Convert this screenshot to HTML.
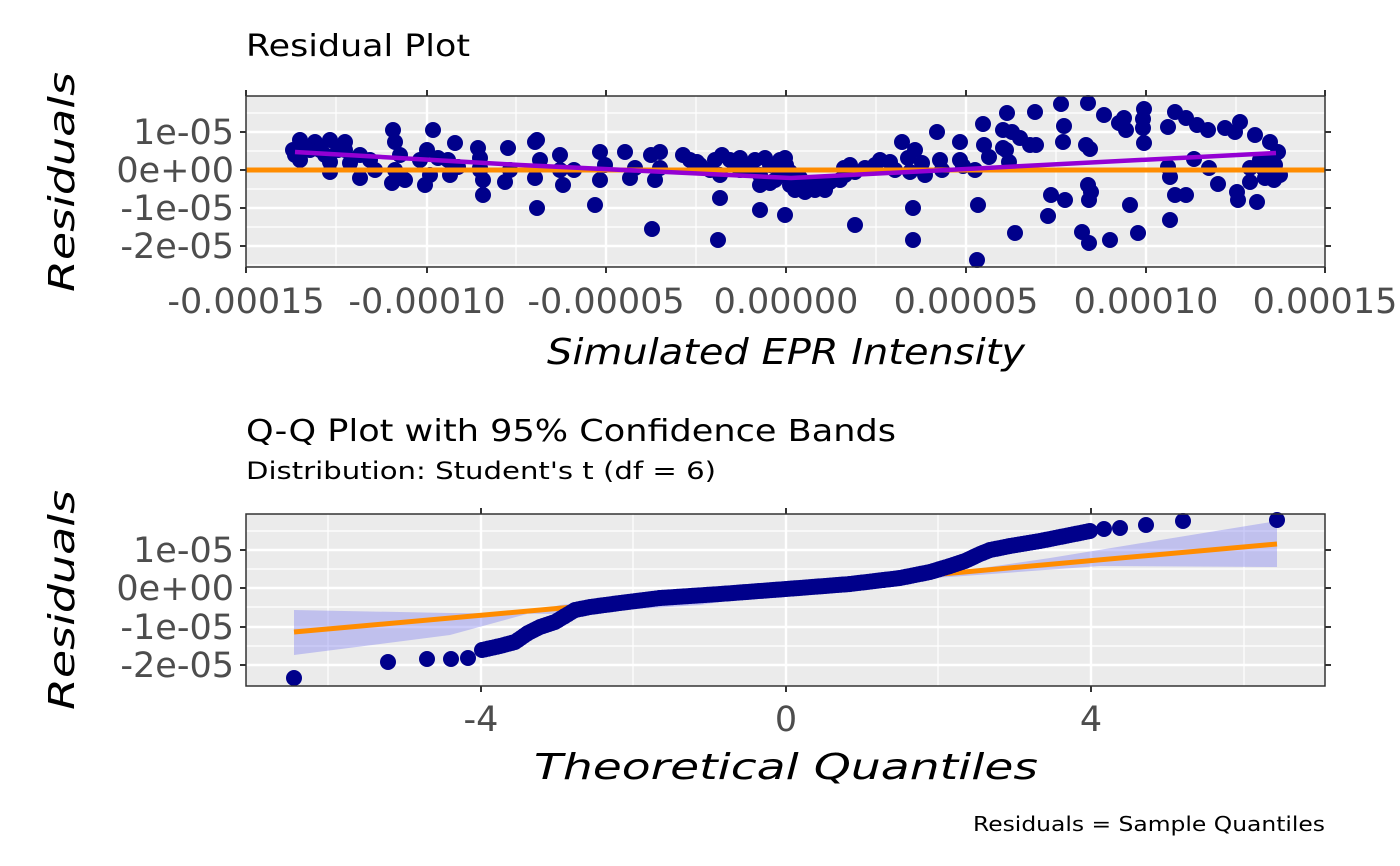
<!DOCTYPE html>
<html><head><meta charset="utf-8"><style>
html,body{margin:0;padding:0;background:#fff;}
svg{display:block;font-family:"DejaVu Sans","Liberation Sans",sans-serif;}
</style></head><body>
<svg id="s" width="1400" height="866" viewBox="0 0 1400 866" xmlns="http://www.w3.org/2000/svg">
<rect x="246" y="96" width="1079" height="171" fill="#EBEBEB"/>
<g stroke="#fff" stroke-width="1.2">
<line x1="246" x2="1325" y1="113" y2="113"/><line x1="246" x2="1325" y1="151" y2="151"/><line x1="246" x2="1325" y1="189" y2="189"/><line x1="246" x2="1325" y1="227" y2="227"/><line x1="246" x2="1325" y1="265" y2="265"/>
<line y1="96" y2="267" x1="336" x2="336"/><line y1="96" y2="267" x1="516" x2="516"/><line y1="96" y2="267" x1="696" x2="696"/><line y1="96" y2="267" x1="876" x2="876"/><line y1="96" y2="267" x1="1056" x2="1056"/><line y1="96" y2="267" x1="1236" x2="1236"/>
</g>
<g stroke="#fff" stroke-width="2.4">
<line x1="246" x2="1325" y1="132" y2="132"/><line x1="246" x2="1325" y1="170" y2="170"/><line x1="246" x2="1325" y1="208" y2="208"/><line x1="246" x2="1325" y1="246" y2="246"/>
<line y1="96" y2="267" x1="427" x2="427"/><line y1="96" y2="267" x1="606" x2="606"/><line y1="96" y2="267" x1="786" x2="786"/><line y1="96" y2="267" x1="966" x2="966"/><line y1="96" y2="267" x1="1146" x2="1146"/>
</g>
<g id="toppts" fill="#00008B"></g>
<line x1="246" x2="1325" y1="170" y2="170" stroke="#FF8C00" stroke-width="5"/>
<polyline points="295,152 520,165 791,178 1276,153" fill="none" stroke="#9400D3" stroke-width="4.5"/>
<rect x="246" y="96" width="1079" height="171" fill="none" stroke="#333" stroke-width="1.5"/>
<g stroke="#333" stroke-width="2">
<line x1="240" x2="246" y1="132" y2="132"/><line x1="240" x2="246" y1="170" y2="170"/><line x1="240" x2="246" y1="208" y2="208"/><line x1="240" x2="246" y1="246" y2="246"/>
<line x1="1325" x2="1331" y1="132" y2="132"/><line x1="1325" x2="1331" y1="170" y2="170"/><line x1="1325" x2="1331" y1="208" y2="208"/><line x1="1325" x2="1331" y1="246" y2="246"/>
<line y1="267" y2="273" x1="246" x2="246"/><line y1="267" y2="273" x1="427" x2="427"/><line y1="267" y2="273" x1="606" x2="606"/><line y1="267" y2="273" x1="786" x2="786"/><line y1="267" y2="273" x1="966" x2="966"/><line y1="267" y2="273" x1="1146" x2="1146"/><line y1="267" y2="273" x1="1325" x2="1325"/>
<line y1="90" y2="96" x1="246" x2="246"/><line y1="90" y2="96" x1="427" x2="427"/><line y1="90" y2="96" x1="606" x2="606"/><line y1="90" y2="96" x1="786" x2="786"/><line y1="90" y2="96" x1="966" x2="966"/><line y1="90" y2="96" x1="1146" x2="1146"/><line y1="90" y2="96" x1="1325" x2="1325"/>
</g>
<g fill="#4D4D4D" font-size="35" text-anchor="end">
<text x="234" y="144">1e-05</text><text x="234" y="182">0e+00</text><text x="234" y="220">-1e-05</text><text x="234" y="258">-2e-05</text>
</g>
<g fill="#4D4D4D" font-size="35" text-anchor="middle">
<text x="246" y="313">-0.00015</text><text x="427" y="313">-0.00010</text><text x="606" y="313">-0.00005</text><text x="786" y="313">0.00000</text><text x="966" y="313">0.00005</text><text x="1146" y="313">0.00010</text><text x="1325" y="313">0.00015</text>
</g>
<text x="246" y="56" font-size="30" fill="#000" textLength="224" lengthAdjust="spacingAndGlyphs">Residual Plot</text>
<text x="786" y="364" font-size="36" font-style="italic" text-anchor="middle" fill="#000" textLength="478" lengthAdjust="spacingAndGlyphs">Simulated EPR Intensity</text>
<text transform="translate(74,182) rotate(-90)" font-size="36" font-style="italic" text-anchor="middle" textLength="220" lengthAdjust="spacingAndGlyphs">Residuals</text>

<rect x="246" y="514" width="1079" height="172" fill="#EBEBEB"/>
<g stroke="#fff" stroke-width="1.2">
<line x1="246" x2="1325" y1="531" y2="531"/><line x1="246" x2="1325" y1="569" y2="569"/><line x1="246" x2="1325" y1="607" y2="607"/><line x1="246" x2="1325" y1="646" y2="646"/>
<line y1="514" y2="686" x1="328" x2="328"/><line y1="514" y2="686" x1="633" x2="633"/><line y1="514" y2="686" x1="938" x2="938"/><line y1="514" y2="686" x1="1244" x2="1244"/>
</g>
<g stroke="#fff" stroke-width="2.4">
<line x1="246" x2="1325" y1="550" y2="550"/><line x1="246" x2="1325" y1="588" y2="588"/><line x1="246" x2="1325" y1="627" y2="627"/><line x1="246" x2="1325" y1="665" y2="665"/>
<line y1="514" y2="686" x1="481" x2="481"/><line y1="514" y2="686" x1="786" x2="786"/><line y1="514" y2="686" x1="1091" x2="1091"/>
</g>
<polygon points="294,610 450,613 560,614 700,605 786,592 900,580 1050,558 1277,521 1277,567 1100,566 950,577 786,585 700,590 560,605 450,635 294,655" fill="#8080F0" fill-opacity="0.4"/>
<line x1="294" y1="632" x2="1277" y2="544" stroke="#FF8C00" stroke-width="5"/>
<g id="botpts" fill="#00008B"></g>
<rect x="246" y="514" width="1079" height="172" fill="none" stroke="#333" stroke-width="1.5"/>
<g stroke="#333" stroke-width="2">
<line x1="240" x2="246" y1="550" y2="550"/><line x1="240" x2="246" y1="588" y2="588"/><line x1="240" x2="246" y1="627" y2="627"/><line x1="240" x2="246" y1="665" y2="665"/>
<line x1="1325" x2="1331" y1="550" y2="550"/><line x1="1325" x2="1331" y1="588" y2="588"/><line x1="1325" x2="1331" y1="627" y2="627"/><line x1="1325" x2="1331" y1="665" y2="665"/>
<line y1="686" y2="692" x1="481" x2="481"/><line y1="686" y2="692" x1="786" x2="786"/><line y1="686" y2="692" x1="1091" x2="1091"/>
<line y1="508" y2="514" x1="481" x2="481"/><line y1="508" y2="514" x1="786" x2="786"/><line y1="508" y2="514" x1="1091" x2="1091"/>
</g>
<g fill="#4D4D4D" font-size="35" text-anchor="end">
<text x="234" y="562">1e-05</text><text x="234" y="600">0e+00</text><text x="234" y="639">-1e-05</text><text x="234" y="677">-2e-05</text>
</g>
<g fill="#4D4D4D" font-size="35" text-anchor="middle">
<text x="481" y="731">-4</text><text x="786" y="731">0</text><text x="1091" y="731">4</text>
</g>
<text x="246" y="441" font-size="30" fill="#000" textLength="650" lengthAdjust="spacingAndGlyphs">Q-Q Plot with 95% Confidence Bands</text>
<text x="246" y="479" font-size="24" fill="#000" textLength="470" lengthAdjust="spacingAndGlyphs">Distribution: Student's t (df = 6)</text>
<text x="786" y="779" font-size="36" font-style="italic" text-anchor="middle" textLength="504" lengthAdjust="spacingAndGlyphs">Theoretical Quantiles</text>
<text transform="translate(74,600) rotate(-90)" font-size="36" font-style="italic" text-anchor="middle" textLength="220" lengthAdjust="spacingAndGlyphs">Residuals</text>
<text x="1325" y="831" font-size="20" text-anchor="end" fill="#000" textLength="352" lengthAdjust="spacingAndGlyphs">Residuals = Sample Quantiles</text>
</svg>
<script>
(function(){
var NS="http://www.w3.org/2000/svg";
function dot(g,x,y){var c=document.createElementNS(NS,"circle");c.setAttribute("cx",x);c.setAttribute("cy",y);c.setAttribute("r",8);g.appendChild(c);}
var tp=[[300,140],[315,142],[330,140],[345,142],[295,155],[300,160],[310,150],[325,155],[330,162],[345,150],[350,163],[360,155],[370,160],[330,172],[360,178],[375,170],[293,150],[305,148],[320,150],[338,150],[393,130],[395,142],[400,155],[395,170],[392,183],[405,180],[420,160],[427,150],[433,130],[425,185],[430,175],[438,158],[455,143],[448,160],[450,175],[458,167],[480,158],[478,148],[480,170],[483,180],[483,195],[508,148],[510,170],[505,182],[535,142],[540,160],[535,178],[537,140],[560,155],[560,170],[574,170],[563,185],[600,152],[605,165],[600,180],[595,205],[625,152],[635,168],[630,178],[651,155],[660,152],[660,168],[655,180],[683,155],[690,160],[697,162],[715,160],[722,155],[710,170],[720,175],[720,198],[718,240],[730,160],[740,158],[745,165],[750,170],[755,160],[765,158],[770,165],[780,160],[785,158],[786,165],[790,172],[780,175],[775,180],[790,185],[795,190],[800,188],[810,185],[815,190],[820,185],[830,182],[840,180],[845,175],[785,215],[850,165],[855,172],[865,168],[875,165],[880,160],[890,162],[895,170],[908,158],[910,172],[902,142],[915,150],[922,163],[925,175],[937,132],[940,160],[942,170],[960,142],[960,160],[963,166],[975,170],[978,205],[652,229],[760,210],[855,225],[913,240],[913,208],[977,260],[844,168],[537,208],[480,168],[700,165],[760,175],[770,183],[800,178],[805,192],[825,190],[760,185],[740,170],
[983,124],[1007,113],[1035,112],[1061,104],[1088,103],[1064,126],[1063,142],[1036,145],[1030,145],[1006,150],[1003,148],[1009,162],[989,157],[984,145],[1104,115],[1119,123],[1143,128],[1144,109],[1143,119],[1144,143],[1175,112],[1168,127],[1186,118],[1197,125],[1208,130],[1240,122],[1235,132],[1255,135],[1270,142],[1278,152],[1275,165],[1280,175],[1268,172],[1263,168],[1209,168],[1218,184],[1168,167],[1170,177],[1175,195],[1170,220],[1110,240],[1138,233],[1082,232],[1089,243],[1065,200],[1130,205],[1088,185],[1089,200],[1091,192],[1051,195],[1048,216],[1015,233],[1090,149],[1126,130],[1124,118],[1186,195],[1194,159],[1250,168],[1250,182],[1238,200],[1237,192],[1257,202],[1274,180],[1265,178],[1020,138],[1012,132],[1003,130],[1086,145],[1225,128],[1260,160],[1270,160]];
var g1=document.getElementById("toppts");tp.forEach(function(p){dot(g1,p[0],p[1]);});
var g2=document.getElementById("botpts");
[[294,678],[388,662],[427,659],[451,659],[468,658],[1104,529],[1120,528],[1146,525],[1183,521],[1277,520]].forEach(function(p){dot(g2,p[0],p[1]);});
var k=[[482,650],[500,646],[515,642],[528,633],[540,627],[555,622],[565,616],[575,610],[590,607],[620,603],[660,598],[720,594],[786,589],[850,584],[900,578],[930,572],[950,566],[965,561],[980,554],[990,550],[1010,546],[1040,541],[1070,535],[1090,531]];
for(var i=0;i<k.length-1;i++){var a=k[i],b=k[i+1];for(var x=a[0];x<b[0];x+=3){var t=(x-a[0])/(b[0]-a[0]);dot(g2,x,a[1]+t*(b[1]-a[1]));}}
dot(g2,1090,531);
})();
</script>
</body></html>
